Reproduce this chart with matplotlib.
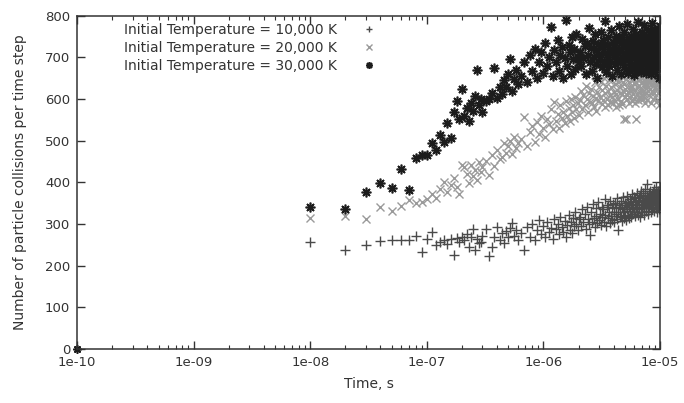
import numpy as np
import matplotlib
matplotlib.use("Agg")
import matplotlib.pyplot as plt
from matplotlib.ticker import FixedLocator, FuncFormatter, LogLocator

# time steps of the simulation output (units of 10 ns)
steps = (list(range(1, 31)) + list(range(32, 61, 2))
         + list(range(64, 201, 4)) + list(range(205, 1001, 5)))
time_s = np.array(steps) * 1e-8

labels = ["Initial Temperature = 10,000 K",
          "Initial Temperature = 20,000 K",
          "Initial Temperature = 30,000 K"]

coll_10k = [
    256, 237, 249, 259, 261, 261, 261, 271, 233, 263,
    281, 249, 258, 261, 252, 263, 225, 266, 257, 270,
    262, 277, 245, 268, 287, 237, 264, 255, 257, 272,
    289, 223, 245, 270, 293, 262, 278, 255, 283, 268, 290, 303, 272, 285, 262,
    278, 237, 292, 270, 301, 262, 285, 310, 275, 296,
    268, 305, 282, 290, 265, 312, 288, 300, 275, 318,
    292, 280, 308, 270, 298, 322, 286, 304, 278, 315,
    295, 330, 300, 285, 312,
    318, 295, 335, 305, 325, 288, 340, 312, 300, 273,
    330, 305, 348, 315, 292, 338, 320, 302, 352, 310,
    325, 298, 342, 318, 335, 306, 360, 322, 295, 340,
    315, 345, 328, 302, 355, 320, 338, 310, 348, 330,
    305, 350, 325, 340, 312, 362, 330, 285, 345, 318,
    338, 320, 355, 308, 342, 328, 365, 315, 335, 350,
    322, 345, 310, 368, 335, 320, 352, 340, 315, 360,
    332, 348, 318, 372, 340, 325, 355, 338, 365, 328,
    345, 320, 362, 338, 352, 330, 375, 342, 322, 358,
    335, 365, 342, 318, 370, 348, 330, 380, 345, 355,
    328, 362, 345, 375, 338, 352, 322, 368, 348, 385,
    340, 358, 332, 370, 350, 397, 345, 362, 325, 375,
    355, 338, 368, 348, 380, 330, 360, 352, 372, 342,
    362, 335, 378, 350, 342, 385, 358, 332, 368, 355,
    345, 372, 352, 390, 338, 365, 348, 375, 328, 360,
    368, 342, 380, 355, 335, 372, 350, 388, 362, 345,
]

coll_20k = [
    315, 319, 311, 341, 332, 343, 357, 350, 353, 360,
    373, 362, 385, 401, 378, 393, 410, 388, 373, 441,
    437, 421, 398, 441, 415, 430, 405, 448, 425, 436,
    452, 418, 465, 440, 478, 455, 462, 495, 470, 488, 500, 468, 510, 482, 495,
    505, 556, 488, 520, 535, 498, 545, 515, 560, 530,
    508, 552, 540, 575, 528, 592, 548, 565, 530, 585,
    555, 570, 542, 595, 560, 578, 548, 600, 568, 585,
    555, 605, 575, 590, 562,
    598, 620, 575, 610, 585, 632, 600, 568, 615, 592,
    625, 590, 608, 580, 640, 602, 572, 618, 595, 630,
    605, 640, 588, 622, 598, 650, 580, 615, 632, 600,
    620, 585, 645, 610, 592, 628, 605, 655, 590, 618,
    598, 636, 612, 580, 648, 622, 600, 640, 585, 615,
    630, 595, 655, 612, 588, 642, 620, 553, 635, 605,
    625, 553, 648, 610, 600, 660, 618, 590, 640, 628,
    605, 652, 620, 595, 668, 630, 612, 645, 600, 638,
    622, 590, 658, 553, 640, 612, 662, 628, 598, 645,
    632, 605, 670, 618, 648, 600, 655, 625, 640, 610,
    650, 620, 600, 665, 635, 612, 658, 628, 645, 590,
    638, 662, 615, 648, 598, 672, 630, 620, 655, 640,
    610, 668, 642, 625, 650, 590, 660, 635, 618, 675,
    645, 620, 660, 600, 652, 638, 672, 615, 648, 630,
    658, 605, 640, 668, 625, 650, 595, 662, 635, 678,
    642, 615, 665, 630, 585, 655, 640, 670, 620, 648,
]

coll_30k = [
    340, 335, 378, 399, 387, 433, 381, 458, 465, 465,
    494, 478, 514, 498, 542, 507, 568, 596, 553, 623,
    560, 579, 548, 590, 571, 608, 670, 585, 600, 568,
    596, 600, 615, 674, 602, 628, 612, 645, 630, 660, 696, 620, 648, 670, 635,
    655, 690, 640, 705, 668, 720, 650, 688, 712, 662,
    735, 680, 700, 774, 655, 718, 690, 742, 668, 705,
    725, 650, 698, 790, 680, 730, 712, 660, 748, 695,
    720, 672, 755, 700, 688,
    712, 680, 745, 698, 728, 660, 735, 705, 770, 690,
    722, 668, 740, 700, 755, 685, 718, 650, 732, 708,
    695, 760, 676, 725, 742, 688, 710, 788, 665, 730,
    702, 748, 680, 720, 692, 765, 712, 655, 738, 700,
    726, 684, 752, 706, 670, 740, 718, 695, 775, 688,
    715, 660, 735, 702, 748, 690, 724, 678, 760, 710,
    696, 738, 672, 780, 705, 728, 662, 745, 700, 720,
    688, 752, 710, 675, 732, 698, 768, 715, 658, 740,
    705, 726, 682, 755, 712, 690, 742, 668, 730, 785,
    700, 722, 676, 748, 708, 664, 736, 694, 760, 716,
    690, 744, 712, 670, 728, 702, 778, 684, 738, 706,
    720, 662, 750, 698, 732, 680, 765, 710, 688, 742,
    704, 728, 672, 756, 716, 694, 740, 660, 724, 782,
    698, 746, 710, 678, 734, 702, 768, 686, 720, 750,
    712, 666, 738, 700, 758, 690, 726, 674, 744, 708,
    730, 684, 762, 706, 650, 740, 718, 692, 775, 705,
]

# first output at t ~ 0 (plotted at the left edge)
t0 = 1e-10
c0 = 0

x_ticks = [1e-10, 1e-9, 1e-8, 1e-7, 1e-6, 1e-5]
y_ticks = [0, 100, 200, 300, 400, 500, 600, 700, 800]

plt.rcParams['font.family'] = ['DejaVu Sans']
fig = plt.figure(figsize=(6.84, 4.03), dpi=100)
ax = fig.add_axes([0.1126, 0.134, 0.8524, 0.827])

series = [coll_10k, coll_20k, coll_30k]
markers = ['+', 'x', (8, 2, 0)]
colors = ['#4a4a4a', '#9a9a9a', '#1c1c1c']
sizes = [7, 6, 7]
widths = [1.0, 1.0, 1.2]
for vals, lab, mk, col, ms, mw in zip(series, labels, markers, colors, sizes, widths):
    ax.plot(time_s, vals, ls='none', marker=mk, ms=ms, mew=mw,
            color=col, label=lab)
ax.plot([t0], [c0], ls='none', marker=(8, 2, 0), ms=6, mew=1.2,
        color='#1c1c1c', clip_on=False)

ax.set_xscale('log')
ax.set_xlim(1e-10, 1e-5)
ax.set_ylim(0, 800)
ax.xaxis.set_major_locator(FixedLocator(x_ticks))
ax.xaxis.set_major_formatter(FuncFormatter(lambda v, p: "1e-%02d" % round(-np.log10(v))))
ax.xaxis.set_minor_locator(LogLocator(base=10, subs=np.arange(2, 10)))
ax.xaxis.set_minor_formatter(FuncFormatter(lambda v, p: ""))
ax.yaxis.set_major_locator(FixedLocator(y_ticks))

ax.tick_params(which='both', direction='in', top=True, right=True,
               colors='#333333', labelsize=9.5, pad=5)
ax.tick_params(which='major', length=6, width=1)
ax.tick_params(which='minor', length=3, width=0.8)
for s in ax.spines.values():
    s.set_color('#333333')
    s.set_linewidth(1.1)

ax.set_xlabel("Time, s", fontsize=10, color='#333333', labelpad=6)
ax.set_ylabel("Number of particle collisions per time step", fontsize=10,
              color='#333333', labelpad=13)

leg = ax.legend(loc='upper left', bbox_to_anchor=(0.081, 0.978), frameon=False,
                markerfirst=False, fontsize=10, borderpad=0, borderaxespad=0,
                labelspacing=0.28, handlelength=1.5, handletextpad=1.55,
                markerscale=0.7)
for t in leg.get_texts():
    t.set_color('#333333')

fig.savefig("out.png", dpi=100)
